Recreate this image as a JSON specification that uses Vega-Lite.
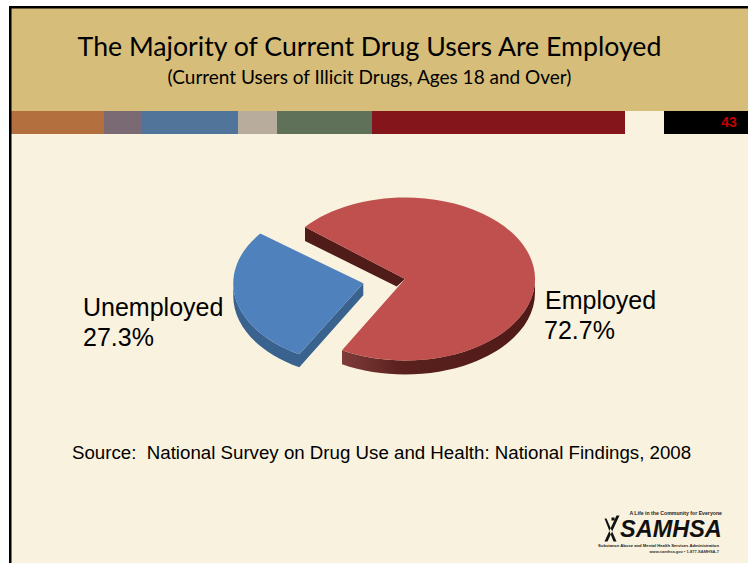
{
"$schema":"https://vega.github.io/schema/vega-lite/v6.json",
"width":748,"height":563,"padding":0,
"autosize":{"type":"fit","contains":"padding"},
"background":"#ffffff",
"view":{"stroke":null},
"datasets":{
"slices":[{"slice":"Employed","share":0.727},{"slice":"Unemployed","share":0.273}],
"one":[{"item":"slide"}]
},
"data":{"name":"slices"},
"resolve":{"scale":{"shape":"independent"}},
"layer":[
{"data":{"name":"one"},"mark":{"type":"rect","fill":"#f9f2df"},"encoding":{"x":{"datum":0,"type":"quantitative","scale":{"domain":[0,748],"nice":false,"zero":false},"axis":null},"x2":{"datum":748},"y":{"datum":0,"type":"quantitative","scale":{"domain":[563,0],"nice":false,"zero":false},"axis":null},"y2":{"datum":563}}},
{"data":{"name":"one"},"mark":{"type":"rect","fill":"#ffffff"},"encoding":{"x":{"datum":0},"x2":{"datum":748},"y":{"datum":0},"y2":{"datum":6}}},
{"data":{"name":"one"},"mark":{"type":"rect","fill":"#ffffff"},"encoding":{"x":{"datum":0},"x2":{"datum":9},"y":{"datum":0},"y2":{"datum":563}}},
{"data":{"name":"one"},"mark":{"type":"rect","fill":"#d6bd7a"},"encoding":{"x":{"datum":11},"x2":{"datum":748},"y":{"datum":8},"y2":{"datum":111}}},
{"data":{"name":"one"},"mark":{"type":"rect","fill":"#b36f3e"},"encoding":{"x":{"datum":11},"x2":{"datum":104},"y":{"datum":111},"y2":{"datum":134}}},
{"data":{"name":"one"},"mark":{"type":"rect","fill":"#7a6a73"},"encoding":{"x":{"datum":104},"x2":{"datum":142},"y":{"datum":111},"y2":{"datum":134}}},
{"data":{"name":"one"},"mark":{"type":"rect","fill":"#51759a"},"encoding":{"x":{"datum":142},"x2":{"datum":238},"y":{"datum":111},"y2":{"datum":134}}},
{"data":{"name":"one"},"mark":{"type":"rect","fill":"#b8ad9c"},"encoding":{"x":{"datum":238},"x2":{"datum":277},"y":{"datum":111},"y2":{"datum":134}}},
{"data":{"name":"one"},"mark":{"type":"rect","fill":"#5f7158"},"encoding":{"x":{"datum":277},"x2":{"datum":372},"y":{"datum":111},"y2":{"datum":134}}},
{"data":{"name":"one"},"mark":{"type":"rect","fill":"#84161b"},"encoding":{"x":{"datum":372},"x2":{"datum":625},"y":{"datum":111},"y2":{"datum":134}}},
{"data":{"name":"one"},"mark":{"type":"rect","fill":"#000000"},"encoding":{"x":{"datum":664},"x2":{"datum":748},"y":{"datum":111},"y2":{"datum":134}}},
{"data":{"name":"one"},"mark":{"type":"rect","fill":"#000000"},"encoding":{"x":{"datum":9},"x2":{"datum":748},"y":{"datum":6},"y2":{"datum":8.5}}},
{"data":{"name":"one"},"mark":{"type":"rect","fill":"#000000"},"encoding":{"x":{"datum":9},"x2":{"datum":11.5},"y":{"datum":6},"y2":{"datum":563}}},

{"transform":[{"filter":"datum.slice==='Unemployed'"}],"mark":{"type":"point","filled":true,"opacity":1,"size":4,"strokeWidth":0,"fill":"#39628f"},"encoding":{"x":{"datum":405},"y":{"datum":279},"shape":{"field":"slice","legend":null,"scale":{"domain":["Unemployed"],"range":["M-105.7,75.3 A130,81.5 0 0 1 -171.7,4.3 L-171.7,17.3 A130,81.5 0 0 0 -105.7,88.3 Z M-41.7,4.3 L-105.7,75.3 L-105.7,88.3 L-41.7,16.3 Z"]}}}},
{"transform":[{"filter":"datum.slice==='Employed'"}],"mark":{"type":"point","filled":true,"opacity":1,"size":4,"strokeWidth":0,"fill":{"gradient":"linear","x1":0,"y1":0,"x2":1,"y2":0,"stops":[{"offset":0,"color":"#7f3c39"},{"offset":0.3,"color":"#5a211e"},{"offset":1,"color":"#4f1a18"}]}},"encoding":{"x":{"datum":405},"y":{"datum":279},"shape":{"field":"slice","legend":null,"scale":{"domain":["Employed"],"range":["M-63,71.3 A130,81.5 0 0 0 130,0 L130,14 A130,81.5 0 0 1 -63,85.3 Z"]}}}},
{"transform":[{"filter":"datum.slice==='Employed'"}],"mark":{"type":"point","filled":true,"opacity":1,"size":4,"strokeWidth":0,"fill":"#4f1c19"},"encoding":{"x":{"datum":405},"y":{"datum":279},"shape":{"field":"slice","legend":null,"scale":{"domain":["Employed"],"range":["M-100,-52 L0,0 L-8.3,7.4 L-100,-38 Z"]}}}},
{"mark":{"type":"point","filled":true,"opacity":1,"size":4,"strokeWidth":0},"encoding":{"x":{"datum":405},"y":{"datum":279},"fill":{"field":"slice","legend":null,"scale":{"domain":["Employed","Unemployed"],"range":["#c0504d","#4f81bd"]}},"shape":{"field":"slice","legend":null,"scale":{"domain":["Employed","Unemployed"],"range":["M0,0 L-100,-52 A130,81.5 0 1 1 -63,71.3 Z","M-41.7,4.3 L-144.7,-45.4 A130,81.5 0 0 0 -105.7,75.3 Z"]}}}},

{"transform":[{"filter":"datum.slice==='Employed'"}],"mark":{"type":"text","align":"left","baseline":"alphabetic","font":"Liberation Sans","fontSize":25,"fill":"#000000"},"encoding":{"x":{"datum":545},"y":{"datum":309},"text":{"field":"slice"}}},
{"transform":[{"filter":"datum.slice==='Employed'"}],"mark":{"type":"text","align":"left","baseline":"alphabetic","font":"Liberation Sans","fontSize":25,"fill":"#000000"},"encoding":{"x":{"datum":544},"y":{"datum":339},"text":{"field":"share","format":".1%"}}},
{"transform":[{"filter":"datum.slice==='Unemployed'"}],"mark":{"type":"text","align":"left","baseline":"alphabetic","font":"Liberation Sans","fontSize":25,"fill":"#000000"},"encoding":{"x":{"datum":83},"y":{"datum":316},"text":{"field":"slice"}}},
{"transform":[{"filter":"datum.slice==='Unemployed'"}],"mark":{"type":"text","align":"left","baseline":"alphabetic","font":"Liberation Sans","fontSize":25,"fill":"#000000"},"encoding":{"x":{"datum":83},"y":{"datum":346},"text":{"field":"share","format":".1%"}}},

{"data":{"values":[{"t":"The Majority of Current Drug Users Are Employed"}]},"mark":{"type":"text","align":"center","baseline":"alphabetic","font":"Lato","fontSize":26.7,"fill":"#000000"},"encoding":{"x":{"datum":369.5},"y":{"datum":56},"text":{"field":"t"}}},
{"data":{"values":[{"t":"(Current Users of Illicit Drugs, Ages 18 and Over)"}]},"mark":{"type":"text","align":"center","baseline":"alphabetic","font":"Lato","fontSize":19,"fill":"#000000"},"encoding":{"x":{"datum":369.5},"y":{"datum":84},"text":{"field":"t"}}},
{"data":{"values":[{"t":"43"}]},"mark":{"type":"text","align":"center","baseline":"alphabetic","font":"Liberation Sans","fontWeight":"bold","fontSize":14,"fill":"#c00000"},"encoding":{"x":{"datum":729},"y":{"datum":127},"text":{"field":"t"}}},
{"data":{"values":[{"t":"Source:\u00a0 National Survey on Drug Use and Health: National Findings, 2008"}]},"mark":{"type":"text","align":"left","baseline":"alphabetic","font":"Liberation Sans","fontSize":18.7,"fill":"#000000"},"encoding":{"x":{"datum":72},"y":{"datum":459},"text":{"field":"t"}}},

{"data":{"values":[{"t":"logo figure"}]},"mark":{"type":"point","filled":true,"opacity":1,"size":4,"strokeWidth":0,"fill":"#111111"},"encoding":{"x":{"datum":612.5},"y":{"datum":528.5},"shape":{"field":"t","legend":null,"scale":{"domain":["logo figure"],"range":["M-8,13 L-5,13 L7,-13 L4,-13 Z M-8,-10 L-6,-10 L4,13 L1,13 Z M-1,-11 L2,-11 L2,-8 L-1,-8 Z"]}}}},
{"data":{"values":[{"t":"SAMHSA"}]},"mark":{"type":"text","align":"left","baseline":"alphabetic","font":"Liberation Sans","fontWeight":"bold","fontStyle":"italic","fontSize":23.5,"fill":"#111111"},"encoding":{"x":{"datum":620},"y":{"datum":537},"text":{"field":"t"}}},
{"data":{"values":[{"t":"A Life in the Community for Everyone"}]},"mark":{"type":"text","align":"right","baseline":"alphabetic","font":"Liberation Sans","fontWeight":"bold","fontSize":5.2,"fill":"#222222"},"encoding":{"x":{"datum":722},"y":{"datum":514.5},"text":{"field":"t"}}},
{"data":{"values":[{"t":"Substance Abuse and Mental Health Services Administration"}]},"mark":{"type":"text","align":"right","baseline":"alphabetic","font":"Liberation Sans","fontWeight":"bold","fontSize":4.2,"fill":"#222222"},"encoding":{"x":{"datum":719},"y":{"datum":547},"text":{"field":"t"}}},
{"data":{"values":[{"t":"www.samhsa.gov • 1-877-SAMHSA-7"}]},"mark":{"type":"text","align":"right","baseline":"alphabetic","font":"Liberation Sans","fontWeight":"bold","fontSize":4,"fill":"#333333"},"encoding":{"x":{"datum":719},"y":{"datum":553},"text":{"field":"t"}}}
]
}
